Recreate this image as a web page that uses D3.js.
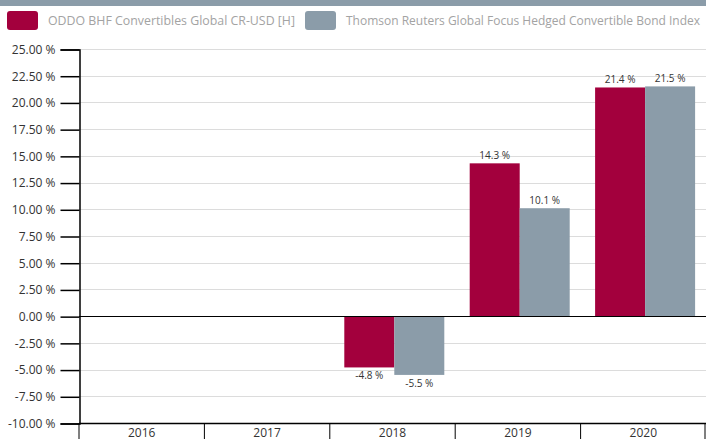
<!DOCTYPE html>
<html>
<head>
<meta charset="utf-8">
<script src="https://cdn.jsdelivr.net/npm/d3@7"></script>
<style>
  body { margin: 0; background: #fff; }
  svg { display: block; font-family: "Open Sans", "Noto Sans", sans-serif; }
</style>
</head>
<body>
<div id="chart"></div>
<script>
// Data
const years = ["2016", "2017", "2018", "2019", "2020"];
const seriesNames = ["ODDO BHF Convertibles Global CR-USD [H]", "Thomson Reuters Global Focus Hedged Convertible Bond Index"];
const fundValues = [null, null, -4.8, 14.3, 21.4];
const indexValues = [null, null, -5.5, 10.1, 21.5];
const yTicks = [25, 22.5, 20, 17.5, 15, 12.5, 10, 7.5, 5, 2.5, 0, -2.5, -5, -7.5, -10];
const colors = ["#a3003d", "#8b9ca9"];

const width = 706, height = 439;
const margin = { top: 49, right: 0, bottom: 16, left: 79 };

const svg = d3.select("#chart").append("svg")
    .attr("width", width)
    .attr("height", height);

// Top band
svg.append("rect")
    .attr("x", 0).attr("y", 0)
    .attr("width", width).attr("height", 6)
    .attr("fill", "#8b9ca9");

// Legend (text fitted to the width of the original face)
const legend = svg.append("g");
const legendX = [7, 305];
const legendTextWidth = [247, 354];
seriesNames.forEach((name, i) => {
    legend.append("rect")
        .attr("x", legendX[i]).attr("y", 11)
        .attr("width", 31).attr("height", 19)
        .attr("rx", 3)
        .attr("fill", colors[i]);
    legend.append("text")
        .attr("x", legendX[i] + 41).attr("y", 25)
        .attr("font-size", 13)
        .attr("fill", "#a3a3a3")
        .attr("textLength", legendTextWidth[i])
        .attr("lengthAdjust", "spacingAndGlyphs")
        .text(name);
});

// Scales
const y = d3.scaleLinear()
    .domain([-10, 25])
    .range([height - margin.bottom, margin.top]);

const x0 = d3.scaleBand()
    .domain(years)
    .range([margin.left, width]);

const x1 = d3.scaleBand()
    .domain([0, 1])
    .range([14.5, 114.5]);

// Gridlines
svg.append("g")
    .selectAll("line")
    .data(yTicks)
    .join("line")
    .attr("x1", margin.left).attr("x2", width)
    .attr("y1", d => Math.round(y(d)) + 0.5)
    .attr("y2", d => Math.round(y(d)) + 0.5)
    .attr("stroke", "#dcdcdc");

// Bars
const rows = years.map((yr, i) => ({ year: yr, values: [fundValues[i], indexValues[i]] }));

const groups = svg.append("g")
    .selectAll("g")
    .data(rows)
    .join("g")
    .attr("transform", d => `translate(${x0(d.year)},0)`);

groups.selectAll("rect")
    .data(d => d.values.map((v, k) => ({ k, v })).filter(e => e.v !== null))
    .join("rect")
    .attr("x", d => x1(d.k))
    .attr("width", x1.bandwidth())
    .attr("y", d => y(Math.max(0, d.v)))
    .attr("height", d => Math.abs(y(d.v) - y(0)))
    .attr("fill", d => colors[d.k]);

groups.selectAll("text")
    .data(d => d.values.map((v, k) => ({ k, v })).filter(e => e.v !== null))
    .join("text")
    .attr("x", d => x1(d.k) + x1.bandwidth() / 2)
    .attr("y", d => d.v >= 0 ? y(d.v) - 4 : y(d.v) + 12)
    .attr("text-anchor", "middle")
    .attr("font-size", 10)
    .attr("fill", "#333")
    .text(d => d.v.toFixed(1) + " %");

// Zero line
svg.append("line")
    .attr("x1", margin.left).attr("x2", width)
    .attr("y1", Math.round(y(0)) + 0.5).attr("y2", Math.round(y(0)) + 0.5)
    .attr("stroke", "#000");

// Y axis
const yAxis = d3.axisLeft(y)
    .tickValues(yTicks)
    .tickSize(19)
    .tickPadding(5)
    .tickFormat(d => d.toFixed(2) + " %");

const yG = svg.append("g")
    .attr("transform", `translate(${margin.left + 0.5},0.5)`)
    .call(yAxis);
yG.select(".domain").attr("stroke", "#000").attr("stroke-width", 1.5);
yG.selectAll(".tick line").attr("stroke", "#000").attr("stroke-width", 1.5);
yG.selectAll(".tick text").attr("font-size", 12).attr("fill", "#333")
    .attr("font-family", "Open Sans, sans-serif");

// X axis
const xG = svg.append("g")
    .attr("transform", `translate(0,${Math.round(y(-10)) + 0.5})`);
xG.append("line")
    .attr("x1", margin.left).attr("x2", width)
    .attr("stroke", "#000").attr("stroke-width", 1.5);
xG.selectAll("line.sep")
    .data(years.concat(["end"]))
    .join("line")
    .attr("class", "sep")
    .attr("x1", (d, i) => i < years.length ? x0(d) : width - 1)
    .attr("x2", (d, i) => i < years.length ? x0(d) : width - 1)
    .attr("y1", 0).attr("y2", 20)
    .attr("stroke", "#000").attr("stroke-width", 1);
xG.selectAll("text")
    .data(years)
    .join("text")
    .attr("x", d => x0(d) + x0.bandwidth() / 2)
    .attr("y", 13.5)
    .attr("text-anchor", "middle")
    .attr("font-size", 12)
    .attr("fill", "#333")
    .text(d => d);
</script>
</body>
</html>
